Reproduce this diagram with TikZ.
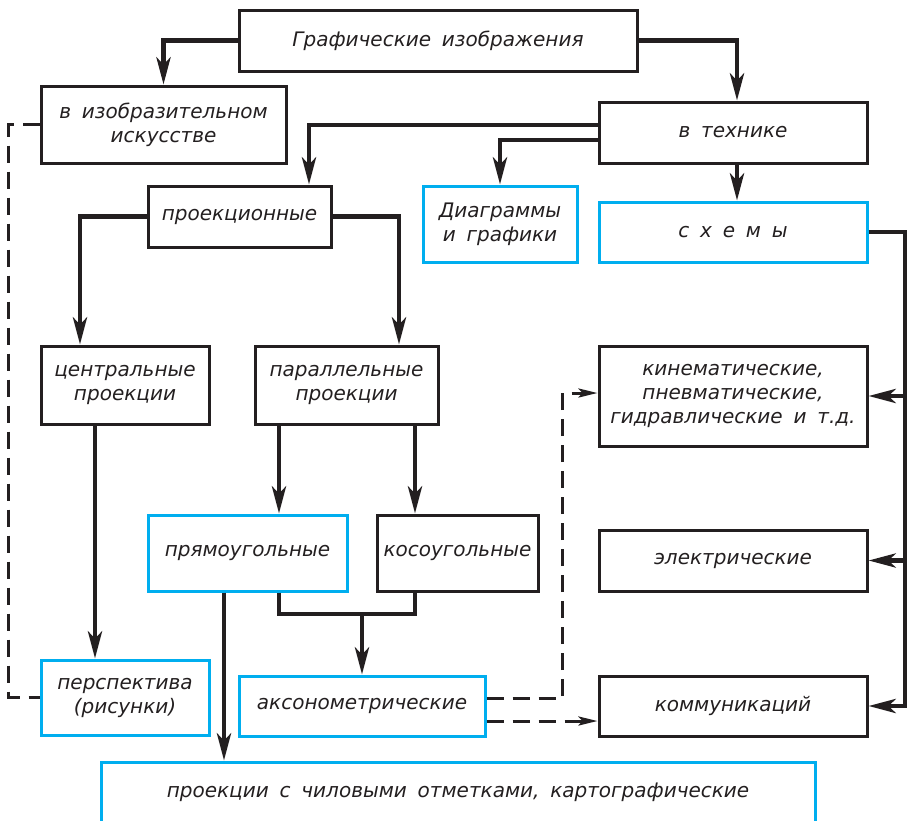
\documentclass[tikz,border=0pt]{standalone}
\usepackage{fontspec}
\setmainfont{DejaVu Sans}[WordSpace=1.7]
\usetikzlibrary{arrows.meta}
\definecolor{Ink}{HTML}{231F20}
\definecolor{Sky}{HTML}{00AEEF}

\begin{document}
\begin{tikzpicture}[x=1pt,y=-1pt,
  font=\fontsize{20}{24}\selectfont\itshape,
  box/.style 2 args={draw=Ink,line width=3pt,text=Ink,align=center,
    minimum width=#1,minimum height=#2,inner sep=0pt},
  sky/.style 2 args={box={#1}{#2},draw=Sky},
  link/.style={draw=Ink,line width=4.5pt},
  arrow/.style={link,-{Stealth[length=27pt,width=14pt,inset=7pt]}},
  dashlink/.style={draw=Ink,line width=3pt,dash pattern=on 17pt off 9pt},
  dasharrow/.style={dashlink,-{Stealth[length=19pt,width=9pt,inset=4pt]}}]
\useasboundingbox (0,0) rectangle (907,820);
\node[box={398}{61}] (graph) at (438,40.5) {Графические изображения};
\node[box={245}{77}] (art) at (163.5,124.5) {в изобразительном\\искусстве};
\node[box={268}{61}] (tech) at (733,132.5) {в технике};
\node[box={183}{61}] (proj) at (239.5,216.5) {проекционные};
\node[sky={154}{76}] (diag) at (500,224) {Диаграммы\\и графики};
\node[sky={268}{60}] (schem) at (733,232) {с х е м ы};
\node[box={168}{78}] (central) at (125,385) {центральные\\проекции};
\node[box={183}{78}] (parallel) at (346.5,385) {параллельные\\проекции};
\node[box={268}{100}] (kinem) at (733,396) {кинематические,\\пневматические,\\гидравлические и т.д.};
\node[sky={199}{76}] (rect) at (247.5,553) {прямоугольные};
\node[box={161}{76}] (oblique) at (457.5,553) {косоугольные};
\node[box={268}{61}] (electric) at (733,560.5) {электрические};
\node[sky={168}{75}] (persp) at (125,697.5) {перспектива\\(рисунки)};
\node[sky={246}{60}] (axon) at (362,706) {аксонометрические};
\node[box={268}{60}] (comm) at (733,706) {коммуникаций};
\node[sky={714}{60}] (marks) at (458,792) {проекции с чиловыми отметками, картографические};
\coordinate (join) at (362,614);
\coordinate (bus) at (905,232);

\draw[arrow] (graph.west) -| (art.north);
\draw[arrow] (graph.east) -| ([xshift=4pt]tech.north);
\draw[arrow] ([yshift=7.5pt]tech.west) -| ([xshift=69.5pt]proj.north);
\draw[arrow] ([yshift=-7.5pt]tech.west) -| (diag.north);
\draw[arrow] ([xshift=4pt]tech.south) -- ([xshift=4pt]schem.north);
\draw[arrow] (proj.west) -| ([xshift=-45pt]central.north);
\draw[arrow] (proj.east) -| ([xshift=52.5pt]parallel.north);
\draw[arrow] ([xshift=-30pt]central.south) -- ([xshift=-30pt]persp.north);
\draw[arrow] ([xshift=-67.5pt]parallel.south) -- ([xshift=31.5pt]rect.north);
\draw[arrow] ([xshift=68.5pt]parallel.south) -- ([xshift=-42.5pt]oblique.north);
\draw[link] ([xshift=31.5pt]rect.south) |- (join) -| ([xshift=-42.5pt]oblique.south);
\draw[arrow] (join) -- (axon.north);
\draw[arrow] ([xshift=-23.5pt]rect.south) -- ([xshift=-234pt]marks.north);
\draw[arrow] (schem.east) -- (bus) |- (comm.east);
\draw[arrow] (bus |- kinem.east) -- (kinem.east);
\draw[arrow] (bus |- electric.east) -- (electric.east);
% dashed links
\draw[dashlink] (art.west) -- ++(-31,0) |- (persp.west);
\draw[dasharrow] ([yshift=8pt]axon.east) -- ++(76,0) |- ([yshift=3pt]kinem.west);
\draw[dasharrow] ([yshift=-15pt]axon.east) -- ([yshift=-15pt]comm.west);
\end{tikzpicture}
\end{document}
